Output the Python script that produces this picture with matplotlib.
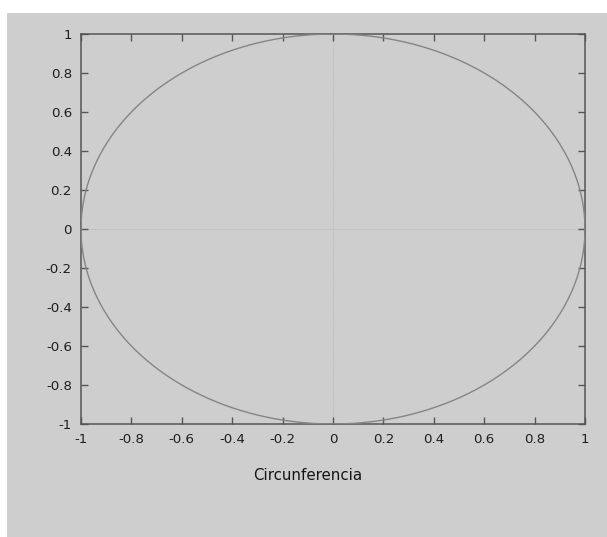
import numpy as np
import matplotlib
matplotlib.use("Agg")
import matplotlib.pyplot as plt
from matplotlib.patches import Rectangle

xticks = [-1, -0.8, -0.6, -0.4, -0.2, 0, 0.2, 0.4, 0.6, 0.8, 1]
yticks = [-1, -0.8, -0.6, -0.4, -0.2, 0, 0.2, 0.4, 0.6, 0.8, 1]
tick_labels = ["-1", "-0.8", "-0.6", "-0.4", "-0.2", "0", "0.2", "0.4", "0.6", "0.8", "1"]
radius = 1.0
xlabel = "Circunferencia"

plt.rcParams['font.family'] = ['DejaVu Sans']
plt.rcParams['axes.unicode_minus'] = False
bg = "#cecece"
W, H = 607, 537
fig = plt.figure(figsize=(W/100, H/100), dpi=100, facecolor="white")
fig.patches.append(Rectangle((7/W, 0), 1 - 7/W, 1 - 13/H, transform=fig.transFigure,
                             facecolor=bg, edgecolor="none", zorder=-10))

ax = fig.add_axes([81/W, 1 - 424/H, (585-81)/W, (424-34)/H])
ax.set_facecolor(bg)

t = np.linspace(0, 2*np.pi, 721)
ax.plot(radius*np.cos(t), radius*np.sin(t), color="#858585", lw=1.0, zorder=3)
ax.axhline(0, color="#bababa", lw=0.8, ls=(0, (1, 1)), zorder=1)
ax.axvline(0, color="#bababa", lw=0.8, ls=(0, (1, 1)), zorder=1)

ax.set_xlim(-1, 1)
ax.set_ylim(-1, 1)
ax.set_xticks(xticks)
ax.set_xticklabels(tick_labels)
ax.set_yticks(yticks)
ax.set_yticklabels(tick_labels)
ax.tick_params(direction="in", length=5, width=1, color="#555555", labelcolor="#1e1e1e",
               labelsize=9.6, top=True, right=True, pad=6.5)
for s in ax.spines.values():
    s.set_color("#555555")
    s.set_linewidth(1.1)
fig.text(307.5/W, 1 - 476/H, xlabel, fontsize=10.8, color="#151515",
         ha="center", va="center")

fig.savefig("out.png", dpi=100, facecolor="white")
